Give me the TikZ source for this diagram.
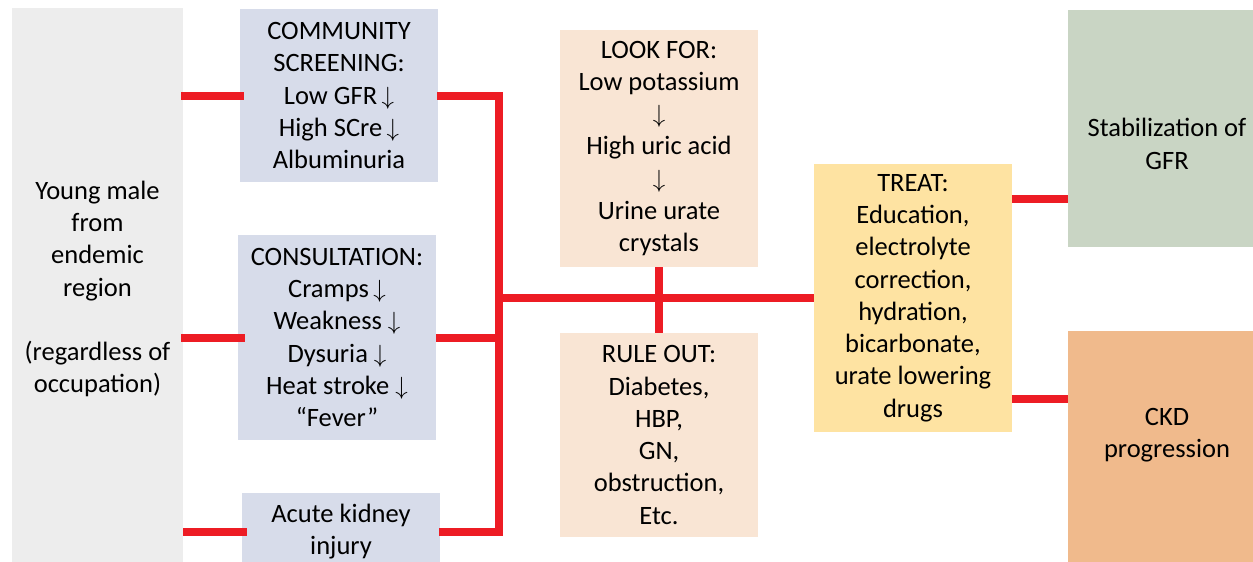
\documentclass[tikz,border=0pt]{standalone}
\usepackage{fontspec}
\setmainfont{Carlito}
\definecolor{cgrey}{HTML}{EDEDED}
\definecolor{cblue}{HTML}{D7DCEA}
\definecolor{cpeach}{HTML}{F9E5D4}
\definecolor{cgold}{HTML}{FEE3A2}
\definecolor{cgreen}{HTML}{C9D5C4}
\definecolor{corange}{HTML}{F0BA8C}
\definecolor{cred}{HTML}{ED1C24}
\newcommand{\dn}{$\downarrow$}
\begin{document}
\begin{tikzpicture}[x=1pt,y=-1pt,
  box/.style={rectangle,inner sep=0pt,align=center,font=\fontsize{26.5}{32.3}\selectfont},
  txt/.style={inner sep=0pt,align=center,font=\fontsize{26.5}{32.3}\selectfont},
  link/.style={draw=cred,line width=8pt,line join=miter,line cap=butt}]
\useasboundingbox (0,0) rectangle (1253,562);
% boxes
\node[box,fill=cgrey,minimum width=171pt,minimum height=560pt] (young) at (97.5,288) {};
\node[txt] (youngt) at (97.5,289) {Young male\\from\\endemic\\region\\[32.3pt](regardless of\\occupation)};
\node[box,fill=cblue,minimum width=198pt,minimum height=173pt] (comm) at (339,95.5)
  {COMMUNITY\\SCREENING:\\Low GFR\,\dn\\High SCre\,\dn\\Albuminuria};
\node[box,fill=cblue,minimum width=198pt,minimum height=205pt] (cons) at (337,337.5)
  {CONSULTATION:\\Cramps\,\dn\\Weakness \dn\\Dysuria \dn\\Heat stroke \dn\\“Fever”};
\node[box,fill=cblue,minimum width=198pt,minimum height=77pt] (aki) at (341,531.5)
  {Acute kidney\\injury};
\node[box,fill=cpeach,minimum width=198pt,minimum height=237pt] (look) at (659,148.5)
  {LOOK FOR:\\Low potassium\\\dn\\High uric acid\\\dn\\Urine urate\\crystals};
\node[box,fill=cpeach,minimum width=198pt,minimum height=204pt] (rule) at (659,435)
  {RULE OUT:\\Diabetes,\\HBP,\\GN,\\obstruction,\\Etc.};
\node[box,fill=cgold,minimum width=198pt,minimum height=268pt] (treat) at (913,298)
  {TREAT:\\Education,\\electrolyte\\correction,\\hydration,\\bicarbonate,\\urate lowering\\drugs};
\node[box,fill=cgreen,minimum width=190pt,minimum height=237pt] (stab) at (1163,128.5) {};
\node[txt] (stabt) at (1167,144) {Stabilization of\\GFR};
\node[box,fill=corange,minimum width=190pt,minimum height=240pt] (ckd) at (1163,451) {};
\node[txt] (ckdt) at (1167,435) {CKD\\progression};
% connectors
\coordinate (bus) at (499,0);
\draw[link] ([xshift=-2pt]young.east |- comm.west) -- ([xshift=4pt]comm.west);
\draw[link] ([xshift=-2pt]young.east |- cons.west) -- ([xshift=7pt]cons.west);
\draw[link] (young.east |- aki.west) -- ([xshift=5pt]aki.west);
\draw[link] ([xshift=-1pt]comm.east) -- (bus |- comm.east) -- (bus |- aki.east) -- ([xshift=-1pt]aki.east);
\draw[link] (cons.east) -- (bus |- cons.east);
\draw[link] (bus |- treat.west) -- (treat.west);
\draw[link] (look.south) -- (rule.north);
\draw[link] (treat.east |- 0,199) -- (stab.west |- 0,199);
\draw[link] (treat.east |- 0,399) -- (ckd.west |- 0,399);
\end{tikzpicture}
\end{document}
